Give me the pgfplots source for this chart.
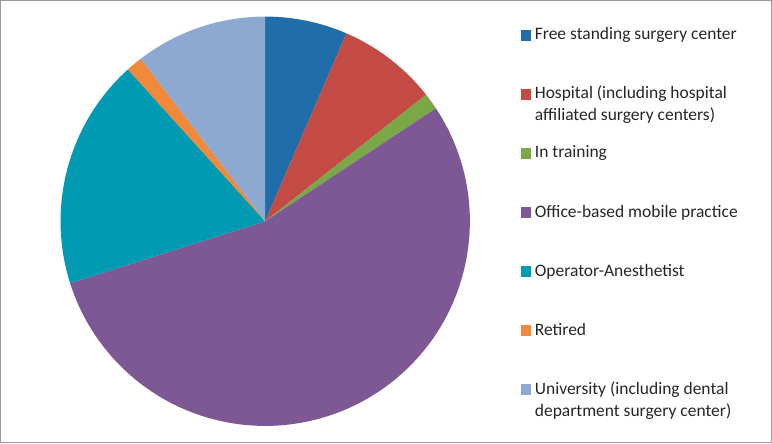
\documentclass[border=0pt]{standalone}
\usepackage{pgfplots}
\usepackage{pgfplotstable}
\pgfplotsset{compat=1.18}
\usepackage{fontspec}
\setmainfont{Carlito}
\definecolor{c0}{HTML}{1F6EA9}
\definecolor{c1}{HTML}{C44A44}
\definecolor{c2}{HTML}{7BA846}
\definecolor{c3}{HTML}{7E5895}
\definecolor{c4}{HTML}{009BB3}
\definecolor{c5}{HTML}{F2893A}
\definecolor{c6}{HTML}{8DA9D2}
\definecolor{txt}{HTML}{262626}
\pgfplotstableread[col sep=comma]{
name,value
Free standing surgery center,6.5
Hospital,7.9
In training,1.3
Office-based mobile practice,54.4
Operator-Anesthetist,18.2
Retired,1.3
University,10.4
}\piedata
\newcommand{\ent}[1]{\raisebox{0pt}[10bp][3bp]{\parbox[t]{235bp}{\raggedright #1}}}
\begin{document}
\begin{tikzpicture}
\def\cum{0}
\pgfplotsforeachungrouped \i in {0,...,6}{%
  \pgfplotstablegetelem{\i}{value}\of\piedata
  \pgfmathsetmacro\st{90-3.6*\cum}%
  \pgfmathsetmacro\cum{\cum+\pgfplotsretval}%
  \pgfmathsetmacro\en{90-3.6*\cum}%
  \expandafter\xdef\csname sa\i\endcsname{\st}%
  \expandafter\xdef\csname ea\i\endcsname{\en}%
}
\begin{axis}[
  x=205bp, y=205bp,
  xmin=-1.2927, xmax=2.4732, ymin=-1.0829, ymax=1.0780,
  axis lines=box, ticks=none,
  axis line style={draw=black!40, line width=1.2bp},
  clip=false,
  legend style={draw=none, fill=none, inner sep=0pt, outer sep=0pt,
    at={(0.6745,0.9345)}, anchor=north west,
    font=\fontsize{17.5bp}{22bp}\selectfont\color{txt},
    nodes={inner sep=0pt, outer sep=0pt},
    cells={anchor=base west},
    column sep=4bp, row sep=47.5bp},
]
\pgfplotsinvokeforeach{0,...,6}{%
  \fill[c#1] (axis cs:0,0) -- (axis cs:{cos(\csname sa#1\endcsname)},{sin(\csname sa#1\endcsname)})
    arc[start angle=\csname sa#1\endcsname, end angle=\csname ea#1\endcsname, radius=205bp] -- cycle;
}
\addlegendimage{legend image code/.code={\fill[c0] (0bp,0bp) rectangle (10bp,10bp);}}
\addlegendentry{\ent{Free standing surgery center}}
\addlegendimage{legend image code/.code={\fill[c1] (0bp,0bp) rectangle (10bp,10bp);}}
\addlegendentry{\ent{Hospital (including hospital\\affiliated surgery centers)}}
\addlegendimage{legend image code/.code={\fill[c2] (0bp,0bp) rectangle (10bp,10bp);}}
\addlegendentry{\ent{In training}}
\addlegendimage{legend image code/.code={\fill[c3] (0bp,0bp) rectangle (10bp,10bp);}}
\addlegendentry{\ent{Office-based mobile practice}}
\addlegendimage{legend image code/.code={\fill[c4] (0bp,0bp) rectangle (10bp,10bp);}}
\addlegendentry{\ent{Operator-Anesthetist}}
\addlegendimage{legend image code/.code={\fill[c5] (0bp,0bp) rectangle (10bp,10bp);}}
\addlegendentry{\ent{Retired}}
\addlegendimage{legend image code/.code={\fill[c6] (0bp,0bp) rectangle (10bp,10bp);}}
\addlegendentry{\ent{University (including dental\\department surgery center)}}
\end{axis}
\end{tikzpicture}
\end{document}
